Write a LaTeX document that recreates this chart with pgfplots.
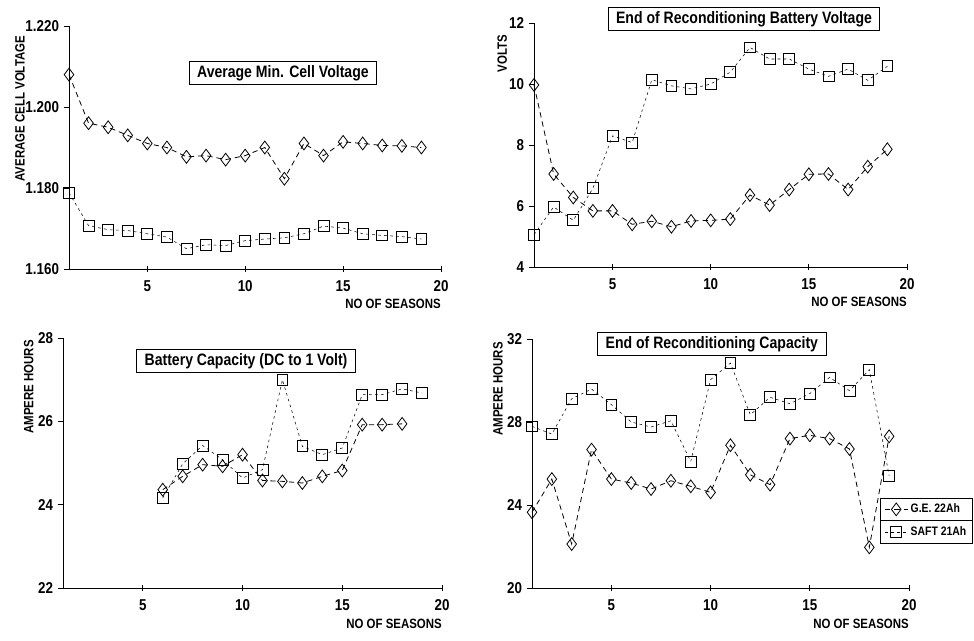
\documentclass[border=0pt]{standalone}
\usepackage{fontspec}
\setmainfont{Liberation Sans}[FakeStretch=0.85]
\usepackage{pgfplots}
\pgfplotsset{compat=1.18}

\newlength\pu \setlength\pu{0.75pt}
\newcommand\tickfont{\fontsize{11.8}{13}\selectfont\bfseries}
\newcommand\labfont{\fontsize{10.1}{12}\selectfont\bfseries}
\newcommand\ttlfont{\fontsize{12.4}{14}\selectfont\bfseries}

\tikzset{ttl/.style={draw, line width=0.7pt, fill=white, font=\ttlfont, inner xsep=6pt, inner ysep=3pt}}

\pgfplotsset{
  panel/.style={
    scale only axis, anchor=south west,
    axis x line=bottom, axis y line=left,
    axis line style={-, line width=0.6pt},
    xmin=1, xmax=20, xtick={5,10,15,20},
    xtick align=center, ytick align=outside,
    major tick length=4pt,
    tick style={line width=0.6pt, black},
    tick label style={font=\tickfont},
    xticklabel style={yshift=-4\pu},
    /pgf/number format/assume math mode=true,
    scaled y ticks=false,
    xlabel={NO OF SEASONS},
    xlabel style={font=\labfont, at={(axis description cs:1,-0.123)}, anchor=north east, inner sep=0pt},
    ylabel style={font=\labfont, anchor=south east, inner sep=0pt},
    clip=false,
  },
  ge/.style={black, line width=0.6pt, dash pattern=on 4pt off 3pt,
    mark=diamond, mark size=4.8pt, mark options={solid, fill=white, line width=0.6pt}},
  saft/.style={black, line width=0.4pt, dash pattern=on 2pt off 2.5pt,
    mark=square, mark size=4.1pt, mark options={solid, fill=white, line width=0.6pt}},
}

\begin{document}
\begin{tikzpicture}
\path[use as bounding box] (0,0) rectangle (974\pu,-640\pu);

% top left: average minimum cell voltage
\begin{axis}[panel, at={(69\pu,-269\pu)}, width=372\pu, height=243\pu,
    ymin=1.16, ymax=1.22, ytick={1.16,1.18,1.2,1.22},
    yticklabel style={/pgf/number format/.cd, fixed, fixed zerofill, precision=3},
    ylabel={AVERAGE CELL VOLTAGE},
    ylabel style={at={(axis description cs:-0.118,0.96)}}]
\addplot[ge] coordinates {(1,1.208)(2,1.196)(3,1.195)(4,1.193)(5,1.191)(6,1.190)(7,1.1877)(8,1.188)(9,1.187)(10,1.188)(11,1.190)(12,1.1823)(13,1.191)(14,1.188)(15,1.1914)(16,1.191)(17,1.1905)(18,1.1904)(19,1.190)};
\addplot[saft] coordinates {(1,1.1788)(2,1.1707)(3,1.1697)(4,1.1695)(5,1.1687)(6,1.1679)(7,1.165)(8,1.166)(9,1.1658)(10,1.167)(11,1.1674)(12,1.1677)(13,1.1687)(14,1.1706)(15,1.1701)(16,1.1687)(17,1.1683)(18,1.168)(19,1.1674)};
\node[ttl] at (axis description cs:0.575,0.807) {Average Min. Cell Voltage};
\end{axis}

% top right: end of reconditioning battery voltage
\begin{axis}[panel, at={(534\pu,-267\pu)}, width=373\pu, height=244\pu,
    ymin=4, ymax=12, ytick={4,6,8,10,12},
    ylabel={VOLTS},
    ylabel style={at={(axis description cs:-0.072,0.951)}}]
\addplot[ge] coordinates {(1,9.97)(2,7.05)(3,6.28)(4,5.84)(5,5.84)(6,5.4)(7,5.5)(8,5.32)(9,5.51)(10,5.53)(11,5.57)(12,6.36)(13,6.03)(14,6.54)(15,7.04)(16,7.05)(17,6.54)(18,7.29)(19,7.86)};
\addplot[saft] coordinates {(1,5.06)(2,5.97)(3,5.53)(4,6.58)(5,8.3)(6,8.08)(7,10.14)(8,9.94)(9,9.84)(10,10.0)(11,10.39)(12,11.2)(13,10.82)(14,10.82)(15,10.49)(16,10.25)(17,10.49)(18,10.12)(19,10.58)};
\node[ttl] at (axis description cs:0.563,1.016) {End of Reconditioning Battery Voltage};
\end{axis}

% bottom left: battery capacity
\begin{axis}[panel, at={(63\pu,-588\pu)}, width=379\pu, height=250\pu,
    ymin=22, ymax=28, ytick={22,24,26,28},
    ylabel={AMPERE HOURS},
    ylabel style={at={(axis description cs:-0.077,0.992)}}]
\addplot[ge] coordinates {(6,24.36)(7,24.68)(8,24.96)(9,24.92)(10,25.2)(11,24.58)(12,24.56)(13,24.52)(14,24.68)(15,24.82)(16,25.92)(17,25.92)(18,25.94)};
\addplot[saft] coordinates {(6,24.16)(7,24.98)(8,25.42)(9,25.08)(10,24.64)(11,24.84)(12,27.0)(13,25.4)(14,25.2)(15,25.36)(16,26.64)(17,26.64)(18,26.78)(19,26.68)};
\node[ttl] at (axis description cs:0.483,0.908) {Battery Capacity (DC to 1 Volt)};
\end{axis}

% bottom right: end of reconditioning capacity
\begin{axis}[panel, at={(532\pu,-588\pu)}, width=377\pu, height=249\pu,
    ymin=20, ymax=32, ytick={20,24,28,32},
    ylabel={AMPERE HOURS},
    ylabel style={at={(axis description cs:-0.077,0.988)}},
    legend cell align=left,
    legend style={name=leg, at={(axis description cs:0.923,0.361)}, anchor=north west,
      draw=black, line width=0.7pt, font=\fontsize{9.2}{10}\selectfont\bfseries,
      inner xsep=3pt, inner ysep=2pt, row sep=5pt}]
\addplot[ge] coordinates {(1,23.65)(2,25.25)(3,22.12)(4,26.67)(5,25.25)(6,25.06)(7,24.77)(8,25.17)(9,24.9)(10,24.61)(11,26.88)(12,25.46)(13,24.98)(14,27.2)(15,27.36)(16,27.2)(17,26.7)(18,21.96)(19,27.31)};
\addlegendentry{G.E. 22Ah}
\addplot[saft] coordinates {(1,27.79)(2,27.42)(3,29.12)(4,29.59)(5,28.84)(6,28.0)(7,27.76)(8,28.06)(9,26.1)(10,30.04)(11,30.84)(12,28.35)(13,29.19)(14,28.88)(15,29.37)(16,30.15)(17,29.51)(18,30.52)(19,25.41)};
\addlegendentry{SAFT 21Ah}
\node[ttl] at (axis description cs:0.477,0.98) {End of Reconditioning Capacity};
\end{axis}
\draw[line width=0.7pt] (leg.west) -- (leg.east);
\end{tikzpicture}
\end{document}
